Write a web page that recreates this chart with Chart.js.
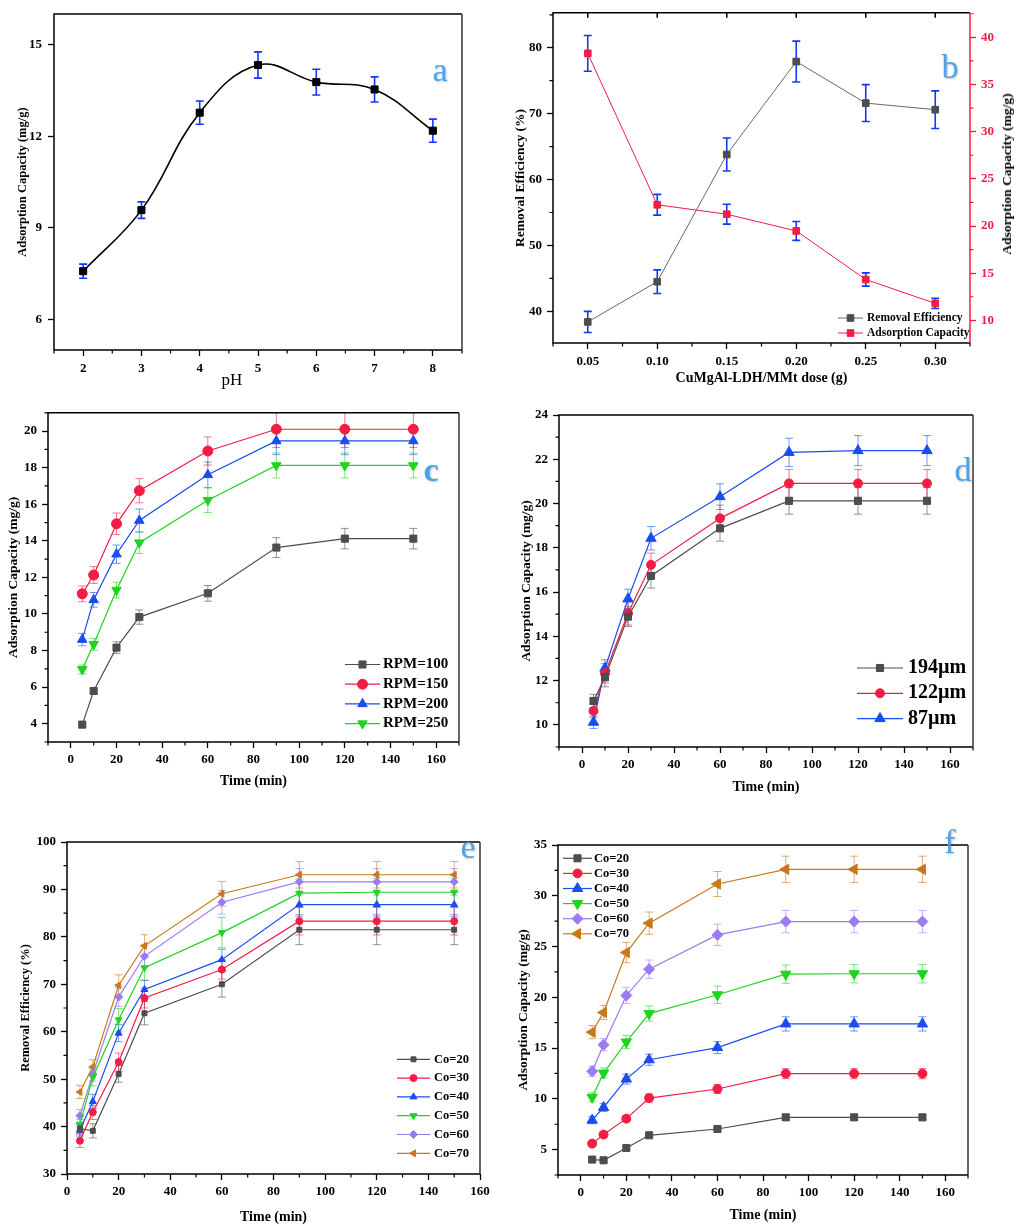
<!DOCTYPE html>
<html>
<head>
<meta charset="utf-8">
<script src="https://cdn.jsdelivr.net/npm/chart.js@4.4.1/dist/chart.umd.min.js"></script>
<style>
body{margin:0;background:#fff;width:1016px;height:1226px;position:relative;overflow:hidden;}
canvas{position:absolute;}
.tag{position:absolute;font-family:"Liberation Serif",serif;font-size:34px;line-height:34px;color:#4da3ea;text-shadow:1px 1px 2px rgba(0,0,0,.25);transform:translateX(-50%);}
.txt{position:absolute;font-family:"Liberation Serif",serif;color:#000;white-space:nowrap;transform:translate(-50%,-50%);}
</style>
</head>
<body>
<canvas id="chartA" width="508" height="400" style="left:0;top:0"></canvas>
<canvas id="chartB" width="508" height="400" style="left:508px;top:0"></canvas>
<canvas id="chartC" width="508" height="400" style="left:0;top:400px"></canvas>
<canvas id="chartD" width="508" height="400" style="left:508px;top:400px"></canvas>
<canvas id="chartE" width="508" height="406" style="left:0;top:820px"></canvas>
<canvas id="chartF" width="508" height="406" style="left:508px;top:820px"></canvas>

<div class="tag" style="left:440px;top:53px">a</div>
<div class="tag" style="left:950px;top:50px">b</div>
<div class="tag" style="left:431px;top:453px;font-weight:bold">c</div>
<div class="tag" style="left:963px;top:453px">d</div>
<div class="tag" style="left:468px;top:830px">e</div>
<div class="tag" style="left:950px;top:825px">f</div>
<div class="txt" style="left:232px;top:380px;font-size:17px">pH</div>
<div class="txt" style="left:1007px;top:174px;font-size:13.5px;font-weight:bold;transform:translate(-50%,-50%) rotate(-90deg)">Adsorption Capacity (mg/g)</div>

<script>
// ---------- data ----------
// a: pH
const phValues = [2, 3, 4, 5, 6, 7, 8];
const phCapacity = [7.58, 9.58, 12.77, 14.33, 13.77, 13.53, 12.18];
const phCapacityErr = [0.23, 0.27, 0.38, 0.43, 0.42, 0.41, 0.38];
const aXTicks = [2, 3, 4, 5, 6, 7, 8];
const aYTicks = [6, 9, 12, 15];

// b: dose
const doseValues = [0.05, 0.10, 0.15, 0.20, 0.25, 0.30];
const doseRemoval = [38.4, 44.5, 63.8, 77.9, 71.6, 70.6];
const doseRemovalErr = [1.6, 1.8, 2.5, 3.1, 2.8, 2.85];
const doseCapacity = [38.3, 22.25, 21.25, 19.48, 14.33, 11.8];
const doseCapacityErr = [1.9, 1.1, 1.05, 1.0, 0.7, 0.55];
const bXTicks = [0.05, 0.10, 0.15, 0.20, 0.25, 0.30];
const bYTicks = [40, 50, 60, 70, 80];
const bY2Ticks = [10, 15, 20, 25, 30, 35, 40];

// time axis shared by c-f
const timeValues = [5, 10, 20, 30, 60, 90, 120, 150];
const timeTicks = [0, 20, 40, 60, 80, 100, 120, 140, 160];

// c: agitation speed
const rpm100 = [3.95, 5.79, 8.16, 9.83, 11.13, 13.63, 14.12, 14.12];
const rpm100Err = [0.1, 0.15, 0.32, 0.39, 0.43, 0.54, 0.56, 0.56];
const rpm150 = [11.1, 12.13, 14.93, 16.74, 18.91, 20.1, 20.1, 20.1];
const rpm150Err = [0.43, 0.46, 0.59, 0.66, 0.77, 1.0, 1.0, 1.0];
const rpm200 = [8.6, 10.77, 13.27, 15.11, 17.61, 19.46, 19.46, 19.46];
const rpm200Err = [0.34, 0.4, 0.5, 0.63, 0.7, 0.75, 0.75, 0.75];
const rpm250 = [6.97, 8.34, 11.31, 13.9, 16.22, 18.12, 18.12, 18.12];
const rpm250Err = [0.24, 0.33, 0.43, 0.59, 0.67, 0.68, 0.68, 0.68];
const cYTicks = [4, 6, 8, 10, 12, 14, 16, 18, 20];

// d: particle size
const size194 = [11.08, 12.15, 14.89, 16.73, 18.88, 20.12, 20.12, 20.12];
const size194Err = [0.3, 0.43, 0.45, 0.55, 0.58, 0.6, 0.6, 0.6];
const size122 = [10.63, 12.33, 15.04, 17.23, 19.33, 20.91, 20.91, 20.91];
const size122Err = [0.3, 0.44, 0.53, 0.53, 0.6, 0.63, 0.63, 0.63];
const size87 = [10.12, 12.56, 15.69, 18.43, 20.31, 22.31, 22.39, 22.39];
const size87Err = [0.28, 0.38, 0.44, 0.53, 0.58, 0.64, 0.68, 0.68];
const dYTicks = [10, 12, 14, 16, 18, 20, 22, 24];

// e: removal efficiency vs initial concentration
const remCo20 = [39.6, 39.1, 51.1, 63.9, 70.0, 81.5, 81.5, 81.5];
const remCo20Err = [1.0, 1.5, 1.75, 2.45, 2.7, 3.15, 3.15, 3.15];
const remCo30 = [37.0, 43.0, 53.6, 67.1, 73.1, 83.3, 83.3, 83.3];
const remCo30Err = [1.4, 1.5, 1.9, 2.1, 2.0, 2.9, 2.9, 2.9];
const remCo40 = [39.2, 45.3, 59.7, 68.9, 75.2, 86.8, 86.8, 86.8];
const remCo40Err = [1.2, 1.5, 1.8, 1.9, 2.2, 2.6, 2.6, 2.6];
const remCo50 = [40.4, 50.4, 62.5, 73.5, 80.9, 89.2, 89.4, 89.4];
const remCo50Err = [1.1, 1.8, 2.4, 2.6, 3.2, 3.0, 3.0, 3.0];
const remCo60 = [42.3, 51.1, 67.3, 75.9, 87.3, 91.6, 91.6, 91.6];
const remCo60Err = [1.3, 1.5, 2.0, 2.3, 2.5, 2.8, 2.8, 2.8];
const remCo70 = [47.3, 52.6, 69.8, 78.1, 89.1, 93.1, 93.1, 93.1];
const remCo70Err = [1.4, 1.5, 2.2, 2.35, 2.6, 2.8, 2.8, 2.8];
const eYTicks = [30, 40, 50, 60, 70, 80, 90, 100];

// f: adsorption capacity vs initial concentration
const capCo20 = [4.02, 3.95, 5.16, 6.41, 7.03, 8.18, 8.18, 8.18];
const capCo20Err = [0.15, 0.15, 0.2, 0.2, 0.2, 0.25, 0.25, 0.25];
const capCo30 = [5.59, 6.48, 8.05, 10.08, 10.97, 12.48, 12.48, 12.48];
const capCo30Err = [0.25, 0.3, 0.3, 0.4, 0.45, 0.5, 0.5, 0.5];
const capCo40 = [7.9, 9.15, 11.95, 13.85, 15.05, 17.38, 17.38, 17.38];
const capCo40Err = [0.35, 0.4, 0.5, 0.55, 0.6, 0.7, 0.7, 0.7];
const capCo50 = [10.15, 12.54, 15.6, 18.4, 20.25, 22.28, 22.32, 22.32];
const capCo50Err = [0.45, 0.5, 0.65, 0.75, 0.85, 0.9, 0.9, 0.9];
const capCo60 = [12.72, 15.33, 20.18, 22.77, 26.15, 27.46, 27.46, 27.46];
const capCo60Err = [0.5, 0.6, 0.8, 0.9, 1.05, 1.1, 1.1, 1.1];
const capCo70 = [16.57, 18.5, 24.41, 27.3, 31.16, 32.6, 32.6, 32.6];
const capCo70Err = [0.65, 0.7, 1.0, 1.1, 1.23, 1.3, 1.3, 1.3];
const fYTicks = [5, 10, 15, 20, 25, 30, 35];

// ---------- colours ----------
const GRAY = "#4d4d4d", RED = "#f21c44", BLUE = "#1a4cf0", GREEN = "#1fd41f",
      PURPLE = "#9b7bf2", ORANGE = "#c8781b", ERRBLUE = "#1238ff";
const SERIF = '"Liberation Serif", "Times New Roman", serif';

Chart.defaults.font.family = SERIF;
Chart.defaults.color = "#000";

// ---------- plugins ----------
const errorBars = {
  id: "errorBars",
  beforeDatasetsDraw(chart, args, opts) {
    const ctx = chart.ctx, area = chart.chartArea;
    ctx.save();
    ctx.beginPath();
    ctx.rect(area.left, area.top, area.right - area.left, area.bottom - area.top);
    ctx.clip();
    chart.data.datasets.forEach((ds, i) => {
      if (!ds.errors) return;
      const meta = chart.getDatasetMeta(i);
      const ys = chart.scales[meta.yAxisID];
      const cap = opts.cap || 4;
      ctx.strokeStyle = ds.errorColor;
      ctx.lineWidth = opts.width || 1;
      ctx.beginPath();
      meta.data.forEach((pt, j) => {
        const v = ds.data[j].y, e = ds.errors[j];
        const y1 = ys.getPixelForValue(v + e), y2 = ys.getPixelForValue(v - e);
        ctx.moveTo(pt.x, y1); ctx.lineTo(pt.x, y2);
        ctx.moveTo(pt.x - cap, y1); ctx.lineTo(pt.x + cap, y1);
        ctx.moveTo(pt.x - cap, y2); ctx.lineTo(pt.x + cap, y2);
      });
      ctx.stroke();
    });
    ctx.restore();
  }
};

// box round the plot area (+ optional inward ticks on the top edge)
const frame = {
  id: "frame",
  afterDraw(chart, args, opts) {
    const {left, top, right, bottom} = chart.chartArea;
    const ctx = chart.ctx;
    ctx.save();
    ctx.lineWidth = 1.5;
    ctx.strokeStyle = "#000";
    ctx.beginPath();
    ctx.moveTo(right, top); ctx.lineTo(left, top); ctx.lineTo(left, bottom); ctx.lineTo(right, bottom);
    if (opts.topTicks) {
      chart.scales.x.ticks.forEach(t => {
        const p = chart.scales.x.getPixelForValue(t.value);
        ctx.moveTo(p, top); ctx.lineTo(p, top + 5);
      });
    }
    ctx.stroke();
    ctx.strokeStyle = opts.rightColor || "#333";
    ctx.beginPath(); ctx.moveTo(right, top); ctx.lineTo(right, bottom); ctx.stroke();
    ctx.restore();
  }
};

const minorTicks = {
  id: "minorTicks",
  afterDraw(chart, args, opts) {
    const ctx = chart.ctx, area = chart.chartArea;
    ["x", "y", "y2"].forEach(id => {
      const step = opts[id], s = chart.scales[id];
      if (!step || !s) return;
      const majors = s.ticks.map(t => t.value);
      ctx.save();
      ctx.strokeStyle = s.options.ticks.color;
      ctx.lineWidth = 1.2;
      ctx.beginPath();
      for (let v = Math.ceil(s.min / step) * step; v <= s.max + 1e-9; v += step) {
        if (majors.some(m => Math.abs(m - v) < step / 100)) continue;
        const p = s.getPixelForValue(v);
        if (s.isHorizontal()) { ctx.moveTo(p, area.bottom); ctx.lineTo(p, area.bottom + 3.5); }
        else if (s.position === "right") { ctx.moveTo(area.right, p); ctx.lineTo(area.right + 3.5, p); }
        else { ctx.moveTo(area.left, p); ctx.lineTo(area.left - 3.5, p); }
      }
      ctx.stroke();
      ctx.restore();
    });
  }
};

const seriesKey = {
  id: "seriesKey",
  afterDraw(chart, args, o) {
    if (!o.y) return;
    const ctx = chart.ctx;
    chart.data.datasets.forEach((d, i) => {
      const y = o.y + i * o.dy;
      ctx.save();
      ctx.strokeStyle = d.borderColor;
      ctx.lineWidth = d.borderWidth;
      ctx.beginPath(); ctx.moveTo(o.x0, y); ctx.lineTo(o.x1, y); ctx.stroke();
      ctx.fillStyle = d.pointBackgroundColor;
      ctx.strokeStyle = d.pointBorderColor;
      ctx.lineWidth = 1;
      Chart.helpers.drawPoint(ctx, {pointStyle: d.pointStyle, rotation: d.pointRotation || 0,
        radius: d.pointRadius, borderWidth: 1}, (o.x0 + o.x1) / 2, y);
      ctx.fillStyle = "#000";
      ctx.font = "bold " + o.size + "px " + SERIF;
      ctx.textBaseline = "middle";
      ctx.fillText(d.label, o.tx, y);
      ctx.restore();
    });
  }
};

Chart.register(errorBars, frame, minorTicks, seriesKey);

// ---------- helpers ----------
function axis(c) {
  return {
    type: "linear",
    position: c.position,
    min: c.min,
    max: c.max,
    afterBuildTicks: s => { s.ticks = c.ticks.map(v => ({value: v})); },
    afterFit: s => { if (s.isHorizontal()) s.height = c.size; else s.width = c.size; },
    grid: {display: true, drawOnChartArea: false, drawTicks: true, tickLength: 6,
           tickColor: c.color || "#000", tickWidth: 1.3},
    border: {display: false},
    ticks: {color: c.color || "#000", font: {size: c.tickSize || 13, weight: "bold"},
            padding: c.tickPad || 4, maxRotation: 0, autoSkip: false,
            callback: c.fmt || (v => v)},
    title: {display: !!c.title, text: c.title, color: "#000",
            font: {size: c.titleSize || 13, weight: "bold"}, padding: c.titlePad || 0}
  };
}

function series(label, xs, ys, errs, color, style, extra) {
  return Object.assign({
    label: label,
    data: xs.map((x, i) => ({x: x, y: ys[i]})),
    errors: errs,
    errorColor: color + "99",
    borderColor: color,
    backgroundColor: color,
    pointBackgroundColor: color,
    pointBorderColor: color,
    borderWidth: 1.2,
    pointStyle: style,
    pointRadius: 5,
    pointBorderWidth: 1,
    showLine: true,
    tension: 0
  }, extra || {});
}

function makeChart(id, datasets, scales, pad, plugins) {
  return new Chart(document.getElementById(id), {
    type: "scatter",
    data: {datasets: datasets},
    options: {
      responsive: false,
      animation: false,
      devicePixelRatio: 1,
      layout: {padding: {top: pad.top, right: pad.right, left: 0, bottom: 0}},
      plugins: Object.assign({legend: {display: false}, tooltip: {enabled: false}}, plugins),
      scales: scales
    }
  });
}

// ---------- a ----------
makeChart("chartA",
  [series("Adsorption Capacity", phValues, phCapacity, phCapacityErr, "#000000", "rect",
    {errorColor: ERRBLUE, borderWidth: 1.6, tension: 0.4})],
  {
    x: axis({min: 1.5, max: 8.5, ticks: aXTicks, size: 50, tickPad: 5}),
    y: axis({min: 5, max: 16, ticks: aYTicks, size: 54, tickPad: 6,
             title: "Adsorption Capacity (mg/g)", titleSize: 12.5, titlePad: {top: 15}})
  },
  {top: 14, right: 46},
  {errorBars: {cap: 4, width: 1.6}, minorTicks: {x: 0.5}}
);

// ---------- b ----------
makeChart("chartB",
  [
    series("Removal Efficiency", doseValues, doseRemoval, doseRemovalErr, GRAY, "rect",
      {errorColor: ERRBLUE, borderColor: "#666", borderWidth: 1, pointRadius: 4.7}),
    series("Adsorption Capacity", doseValues, doseCapacity, doseCapacityErr, RED, "rect",
      {errorColor: ERRBLUE, borderWidth: 1, pointRadius: 4.7, yAxisID: "y2"})
  ],
  {
    x: axis({min: 0.025, max: 0.325, ticks: bXTicks, size: 57, tickPad: 5, fmt: v => v.toFixed(2),
             title: "CuMgAl-LDH/MMt dose (g)", titleSize: 14, titlePad: {bottom: 13.5}}),
    y: axis({min: 35.2, max: 85.3, ticks: bYTicks, size: 45, tickPad: 5,
             title: "Removal Efficiency (%)", titleSize: 13.5, titlePad: {top: 4}}),
    y2: axis({position: "right", min: 7.6, max: 42.6, ticks: bY2Ticks, size: 46, tickPad: 5, color: RED})
  },
  {top: 7, right: 0},
  {errorBars: {cap: 4, width: 1.6}, minorTicks: {x: 0.025, y: 5, y2: 2.5},
   frame: {rightColor: RED, topTicks: true},
   seriesKey: {x0: 330, x1: 355, tx: 359, y: 318, dy: 15, size: 11.5}}
);

// ---------- c ----------
makeChart("chartC",
  [
    series("RPM=100", timeValues, rpm100, rpm100Err, GRAY, "rect"),
    series("RPM=150", timeValues, rpm150, rpm150Err, RED, "circle"),
    series("RPM=200", timeValues, rpm200, rpm200Err, BLUE, "triangle", {pointRadius: 5.5}),
    series("RPM=250", timeValues, rpm250, rpm250Err, GREEN, "triangle", {pointRadius: 5.5, pointRotation: 180})
  ],
  {
    x: axis({min: -10, max: 170, ticks: timeTicks, size: 58,
             title: "Time (min)", titleSize: 14, titlePad: {bottom: 10.5}}),
    y: axis({min: 3, max: 21, ticks: cYTicks, size: 48, tickPad: 5,
             title: "Adsorption Capacity (mg/g)", titleSize: 13.5, titlePad: {top: 5}})
  },
  {top: 11, right: 49},
  {errorBars: {cap: 4}, minorTicks: {x: 10, y: 1},
   seriesKey: {x0: 345, x1: 380, tx: 383, y: 264.5, dy: 19.7, size: 15}}
);

// ---------- d ----------
makeChart("chartD",
  [
    series("194\u00b5m", timeValues, size194, size194Err, GRAY, "rect"),
    series("122\u00b5m", timeValues, size122, size122Err, RED, "circle", {pointRadius: 4.5}),
    series("87\u00b5m", timeValues, size87, size87Err, BLUE, "triangle", {pointRadius: 6})
  ],
  {
    x: axis({min: -10, max: 170, ticks: timeTicks, size: 53,
             title: "Time (min)", titleSize: 14, titlePad: {bottom: 4.5}}),
    y: axis({min: 9, max: 24, ticks: dYTicks, size: 51, tickPad: 5,
             title: "Adsorption Capacity (mg/g)", titleSize: 13.5, titlePad: {top: 10}})
  },
  {top: 15, right: 43},
  {errorBars: {cap: 4}, minorTicks: {x: 10, y: 1},
   seriesKey: {x0: 349, x1: 395, tx: 400, y: 268, dy: 25.3, size: 20}}
);

// ---------- e ----------
makeChart("chartE",
  [
    series("Co=20", timeValues, remCo20, remCo20Err, GRAY, "rect", {pointRadius: 3.5}),
    series("Co=30", timeValues, remCo30, remCo30Err, RED, "circle", {pointRadius: 3.5}),
    series("Co=40", timeValues, remCo40, remCo40Err, BLUE, "triangle", {pointRadius: 4}),
    series("Co=50", timeValues, remCo50, remCo50Err, GREEN, "triangle", {pointRadius: 4, pointRotation: 180}),
    series("Co=60", timeValues, remCo60, remCo60Err, PURPLE, "rectRot", {pointRadius: 4}),
    series("Co=70", timeValues, remCo70, remCo70Err, ORANGE, "triangle", {pointRadius: 4, pointRotation: -90})
  ],
  {
    x: axis({min: 0, max: 160, ticks: timeTicks, size: 52,
             title: "Time (min)", titleSize: 14, titlePad: {bottom: 0.6}}),
    y: axis({min: 30, max: 100, ticks: eYTicks, size: 67, tickPad: 5,
             title: "Removal Efficiency (%)", titleSize: 12.5, titlePad: {top: 18}})
  },
  {top: 22, right: 28},
  {errorBars: {cap: 4}, minorTicks: {x: 10, y: 5},
   seriesKey: {x0: 397, x1: 430, tx: 434, y: 239.3, dy: 18.8, size: 12.5}}
);

// ---------- f ----------
makeChart("chartF",
  [
    series("Co=20", timeValues, capCo20, capCo20Err, GRAY, "rect"),
    series("Co=30", timeValues, capCo30, capCo30Err, RED, "circle", {pointRadius: 4.5}),
    series("Co=40", timeValues, capCo40, capCo40Err, BLUE, "triangle", {pointRadius: 6}),
    series("Co=50", timeValues, capCo50, capCo50Err, GREEN, "triangle", {pointRadius: 6, pointRotation: 180}),
    series("Co=60", timeValues, capCo60, capCo60Err, PURPLE, "rectRot", {pointRadius: 5.5}),
    series("Co=70", timeValues, capCo70, capCo70Err, ORANGE, "triangle", {pointRadius: 6, pointRotation: -90})
  ],
  {
    x: axis({min: -10, max: 170, ticks: timeTicks, size: 51,
             title: "Time (min)", titleSize: 14, titlePad: {bottom: 2.6}}),
    y: axis({min: 2.5, max: 35, ticks: fYTicks, size: 50, tickPad: 5,
             title: "Adsorption Capacity (mg/g)", titleSize: 13.5, titlePad: {top: 7}})
  },
  {top: 25, right: 48},
  {errorBars: {cap: 4}, minorTicks: {x: 10, y: 2.5},
   seriesKey: {x0: 55, x1: 84, tx: 86, y: 38.3, dy: 15.1, size: 12.5}}
);
</script>
</body>
</html>
